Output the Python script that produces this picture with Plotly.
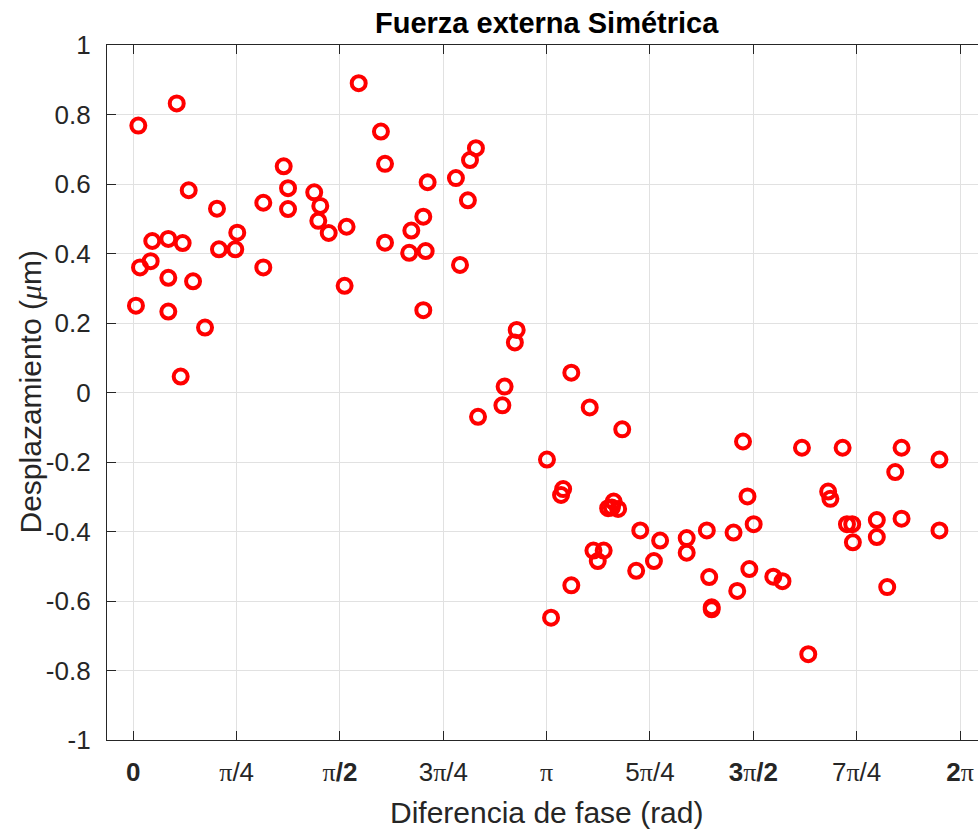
import plotly.graph_objects as go
import math

# Phase difference (rad)
fase = [0.038, 0.330, 1.713, 1.882, 1.913, 2.604, 2.559, 2.452, 2.543, 2.237,
        1.143, 1.176, 1.176, 0.988, 1.375, 1.421, 1.406, 1.485, 1.621, 1.913,
        2.113, 2.204, 2.097, 2.222, 2.483, 2.204, 1.606, 0.988, 0.421, 0.636,
        0.790, 0.651, 0.775, 0.144, 0.266, 0.375, 0.132, 0.051, 0.266, 0.454,
        0.020, 0.266, 0.545, 0.360,
        2.914, 2.900, 3.329, 2.822, 2.805, 2.620, 3.469, 3.716, 4.634, 5.082,
        5.391, 5.839, 6.127, 3.144, 5.791, 3.267, 3.251, 5.281, 5.298, 4.668,
        3.651, 3.637, 3.609, 3.685, 5.424, 5.464, 4.715, 5.651, 5.839, 6.127,
        3.853, 4.359, 4.562, 4.004, 4.206, 4.206, 5.651, 5.469, 3.497, 3.575,
        3.530, 3.957, 3.822, 4.682, 4.377, 4.864, 4.934, 4.590, 5.730, 3.329,
        4.396, 4.396, 3.175, 5.130]

# Displacement (um)
desplazamiento = [0.768, 0.832, 0.890, 0.751, 0.658, 0.703, 0.669, 0.617, 0.553, 0.605,
                  0.651, 0.588, 0.528, 0.546, 0.576, 0.537, 0.494, 0.459, 0.477, 0.431,
                  0.466, 0.506, 0.402, 0.407, 0.367, 0.237, 0.307, 0.360, 0.582, 0.529,
                  0.460, 0.412, 0.412, 0.436, 0.442, 0.430, 0.378, 0.360, 0.330, 0.320,
                  0.250, 0.233, 0.187, 0.046,
                  0.180, 0.144, 0.057, 0.017, -0.037, -0.070, -0.043, -0.106, -0.141, -0.159,
                  -0.159, -0.159, -0.193, -0.193, -0.229, -0.278, -0.295, -0.285, -0.306, -0.299,
                  -0.314, -0.331, -0.333, -0.335, -0.379, -0.379, -0.379, -0.367, -0.363, -0.397,
                  -0.397, -0.397, -0.403, -0.426, -0.419, -0.461, -0.416, -0.431, -0.455, -0.455,
                  -0.485, -0.485, -0.513, -0.508, -0.531, -0.530, -0.543, -0.571, -0.560, -0.555,
                  -0.618, -0.624, -0.648, -0.753]

PI = '<span style="font-family:\'Liberation Serif\'">π</span>'
x_tickvals = [k * math.pi / 4 for k in range(9)]
x_ticktext = ['<b>0</b>', PI + '/4', PI + '<b>/2</b>', '3' + PI + '/4', PI,
              '5' + PI + '/4', '<b>3</b>' + PI + '<b>/2</b>', '7' + PI + '/4', '<b>2</b>' + PI]
y_tickvals = [-1, -0.8, -0.6, -0.4, -0.2, 0, 0.2, 0.4, 0.6, 0.8, 1]
y_ticktext = ['-1', '-0.8', '-0.6', '-0.4', '-0.2', '0', '0.2', '0.4', '0.6', '0.8', '1']

AX = '#262626'
GRID = '#e1e1e1'
FONT = 'Liberation Sans, Arial, sans-serif'

fig = go.Figure()
fig.add_trace(go.Scatter(
    x=fase, y=desplazamiento, mode='markers',
    marker=dict(symbol='circle-open', size=14, color='#ff0000',
                line=dict(width=4, color='#ff0000')),
    showlegend=False, cliponaxis=False))

W, H = 978, 831
L, R, T, B = 107, 0, 45, 91
fig.update_layout(
    width=W, height=H,
    margin=dict(l=L, r=R, t=T, b=B, pad=0),
    paper_bgcolor='white', plot_bgcolor='white',
    font=dict(family=FONT, color=AX, size=26),
    xaxis=dict(range=[-0.2, 6.420], tickvals=x_tickvals, ticktext=x_ticktext,
               ticks='inside', ticklen=9, tickwidth=1.3, tickcolor=AX,
               showline=True, linecolor=AX, linewidth=1.3, mirror='ticks',
               showgrid=True, gridcolor=GRID, gridwidth=1, zeroline=False,
               tickfont=dict(size=26, color=AX, family=FONT), ticklabelstandoff=9),
    yaxis=dict(range=[-1, 1], tickvals=y_tickvals, ticktext=y_ticktext,
               ticks='inside', ticklen=9, tickwidth=1.3, tickcolor=AX,
               showline=True, linecolor=AX, linewidth=1.3, mirror=False,
               showgrid=True, gridcolor=GRID, gridwidth=1, zeroline=False,
               tickfont=dict(size=26, color=AX, family=FONT), ticklabelstandoff=10),
)

plot_w = W - L - R
cx = (546.5 - L) / plot_w
fig.add_annotation(text='<b>Fuerza externa Simétrica</b>', xref='paper', yref='paper',
                   x=cx, y=1, yshift=22, xanchor='center', yanchor='middle',
                   showarrow=False, font=dict(size=29, color='black', family=FONT))
fig.add_annotation(text='Diferencia de fase (rad)', xref='paper', yref='paper',
                   x=cx, y=0, yshift=-(812 - 740), xanchor='center', yanchor='middle',
                   showarrow=False, font=dict(size=30, color=AX, family=FONT))
fig.add_annotation(text='Desplazamiento (<span style="font-family:\'Liberation Serif\';font-style:italic">μ</span>m)',
                   xref='paper', yref='paper', x=0, y=0.5, xshift=-(L - 30),
                   xanchor='center', yanchor='middle', textangle=-90,
                   showarrow=False, font=dict(size=30, color=AX, family=FONT))

fig.write_html('out.html')
